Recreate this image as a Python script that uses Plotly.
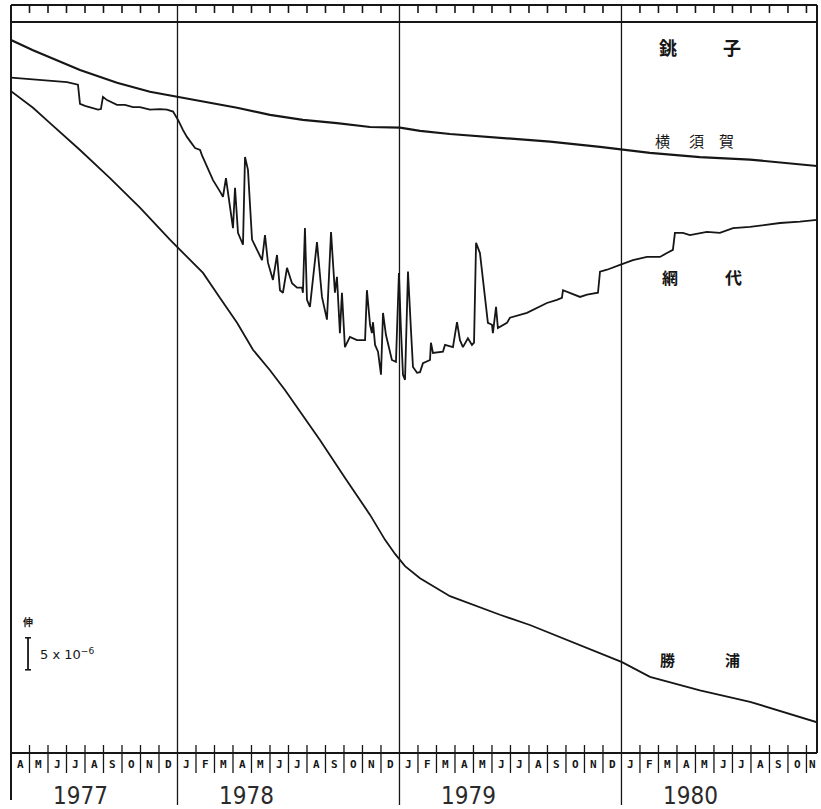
import plotly.graph_objects as go

# time axis: months since 1977-04-01 ; strain values in units of 1e-6 (arbitrary offset)
X_END = 43.57

yokosuka_t = [0, 1.19, 3.73, 5.73, 7.51, 9.03, 10.38, 12.22, 14.0, 15.78, 17.62, 19.41,
              21.03, 22.11, 23.73, 26.43, 29.14, 31.84, 34.54, 37.24, 39.95, 43.57]
yokosuka_v = [111.4, 109.8, 106.7, 104.7, 103.3, 102.5, 101.7, 100.8, 99.7, 98.9, 98.4, 97.8,
              97.7, 97.2, 96.7, 96.1, 95.5, 94.7, 93.75, 93.1, 92.7, 91.7]

ajiro_t = [0, 1.19, 2.38, 3.03, 3.62, 3.73, 4.00, 4.27, 4.70, 4.86, 4.97, 5.19, 5.46, 5.73,
           6.16, 6.59, 6.97, 7.51, 8.05, 8.43, 8.76, 9.03, 9.30, 9.51, 9.95, 10.22, 10.32,
           10.59, 10.92, 11.30, 11.46, 11.62, 11.84, 12.00, 12.11, 12.27, 12.54, 12.65, 12.81,
           12.92, 13.03, 13.30, 13.57, 13.73, 13.89, 14.16, 14.38, 14.54, 14.70, 14.92, 15.19,
           15.46, 15.73, 15.78, 15.89, 16.00, 16.16, 16.54, 16.81, 17.08, 17.30, 17.51, 17.62,
           17.78, 17.89, 18.05, 18.32, 18.70, 19.14, 19.24, 19.41, 19.51, 19.57, 19.68, 19.84,
           20.00, 20.11, 20.27, 20.59, 20.81, 20.97, 21.08, 21.19, 21.30, 21.46, 21.62, 21.73,
           21.95, 22.11, 22.27, 22.65, 22.70, 22.81, 23.35, 23.46, 23.89, 24.11, 24.27, 24.43,
           24.70, 24.92, 25.03, 25.14, 25.35, 25.62, 25.78, 26.00, 26.05, 26.22, 26.32, 26.81,
           26.97, 27.89, 28.59, 28.97, 29.51, 29.78, 29.84, 30.22, 30.76, 31.14, 31.73, 31.84,
           32.22, 32.92, 33.62, 34.38, 35.08, 35.46, 35.78, 35.89, 36.32, 36.70, 37.62, 38.32,
           39.03, 39.95, 40.86, 41.57, 42.65, 43.57]
ajiro_v = [105.5, 105.2, 105.0, 104.8, 104.4, 101.4, 101.1, 100.9, 100.5, 100.6, 102.5, 102.0,
           101.6, 101.25, 101.25, 100.9, 100.9, 100.5, 100.6, 100.5, 100.2, 98.9, 97.3, 96.25,
           94.5, 94.2, 93.4, 91.6, 89.5, 87.7, 86.9, 89.8, 84.8, 82.0, 88.3, 81.25, 79.4, 93.1,
           91.1, 84.8, 80.2, 78.6, 77.0, 80.9, 76.6, 73.9, 77.8, 72.3, 71.9, 75.8, 73.4, 72.7,
           72.7, 71.9, 82.0, 70.8, 69.7, 79.8, 71.25, 67.7, 81.4, 71.9, 74.4, 65.6, 71.9, 63.4,
           65.0, 64.5, 64.5, 72.3, 66.9, 65.6, 67.3, 63.75, 62.7, 59.1, 68.75, 65.3, 61.4, 61.1,
           75.0, 66.1, 59.1, 58.3, 75.2, 66.1, 60.3, 59.4, 59.5, 60.9, 61.4, 64.1, 62.5, 62.7,
           63.75, 63.4, 67.3, 64.5, 63.4, 64.8, 63.75, 64.1, 79.7, 78.1, 71.25, 67.2, 66.9, 65.6,
           69.7, 66.4, 67.2, 68.0, 68.75, 69.7, 70.3, 70.8, 71.1, 72.3, 71.9, 71.25, 71.6, 71.9,
           75.2, 75.5, 76.25, 77.0, 77.5, 77.5, 78.1, 78.6, 81.25, 81.25, 80.9, 81.4, 81.25,
           82.0, 82.2, 82.5, 82.8, 83.0, 83.3]

katsuura_t = [0, 1.19, 2.11, 3.73, 5.35, 6.97, 8.59, 9.03, 10.38, 11.30, 12.22, 13.08, 14.00,
              14.81, 16.70, 18.05, 19.41, 20.22, 20.76, 21.30, 22.11, 23.73, 25.35, 26.43,
              28.05, 29.68, 31.30, 32.11, 33.03, 34.54, 37.24, 39.95, 43.57]
katsuura_v = [103.4, 100.8, 98.4, 94.2, 89.8, 85.2, 80.2, 78.9, 75.0, 71.1, 67.2, 63.0, 59.8,
              56.7, 48.9, 43.0, 37.2, 33.3, 31.1, 29.2, 27.3, 24.5, 22.7, 21.6, 20.0, 18.1,
              16.1, 15.2, 14.2, 11.9, 9.8, 8.0, 4.8]

month_labels = ["A", "M", "J", "J", "A", "S", "O", "N", "D",
                "J", "F", "M", "A", "M", "J", "J", "A", "S", "O", "N", "D",
                "J", "F", "M", "A", "M", "J", "J", "A", "S", "O", "N", "D",
                "J", "F", "M", "A", "M", "J", "J", "A", "S", "O", "N"]
year_labels = ["1977", "1978", "1979", "1980"]
year_starts = [0, 9, 21, 33]
year_lines = [9, 21, 33]

INK = "#161616"

fig = go.Figure()
for t, v, w in [(yokosuka_t, yokosuka_v, 2.2), (ajiro_t, ajiro_v, 1.8), (katsuura_t, katsuura_v, 1.8)]:
    fig.add_trace(go.Scatter(x=t, y=v, mode="lines", line=dict(color=INK, width=w),
                             hoverinfo="skip", showlegend=False))

PLOT_H = 731.0
def py(p):
    return (753 - p) / PLOT_H

shapes = []
def line(x0, y0, x1, y1, xref="paper", w=1.6):
    shapes.append(dict(type="line", xref=xref, yref="paper", x0=x0, y0=y0, x1=x1, y1=y1,
                       line=dict(color=INK, width=w)))

# frame
line(0, py(800), 0, py(5), w=2)
line(1, 0, 1, py(5), w=2)
line(0, py(5), 1, py(5), w=1.8)
line(0, 1, 1, 1, w=1.8)
line(0, 0, 1, 0, w=1.8)
# month ticks
for m in range(1, 44):
    if m in year_lines:
        continue
    line(m, py(13), m, py(5), xref="x", w=1.6)
    line(m, py(773), m, py(745), xref="x", w=1.3)
for m in year_lines:
    line(m, py(805), m, py(5), xref="x", w=1.3)

# scale bar 5e-6
shapes.append(dict(type="line", xref="x", yref="y", x0=0.92, x1=0.92, y0=13, y1=18,
                   line=dict(color=INK, width=1.8)))
for yy in (13, 18):
    shapes.append(dict(type="line", xref="x", yref="y", x0=0.76, x1=1.08, y0=yy, y1=yy,
                       line=dict(color=INK, width=1.6)))

ann = []
for i, lab in enumerate(month_labels):
    xc = i + 0.5 if i < 43 else 43.3
    ann.append(dict(x=xc, y=py(764), xref="x", yref="paper", yanchor="middle",
                    text="<b>%s</b>" % lab, showarrow=False,
                    font=dict(family="DejaVu Sans Mono", size=11, color=INK)))
for lab, s in zip(year_labels, year_starts):
    ann.append(dict(x=s + 3.75, y=py(796), xref="x", yref="paper", yanchor="middle",
                    text=lab, showarrow=False,
                    font=dict(family="Liberation Sans Narrow, DejaVu Sans Condensed, sans-serif",
                              size=24, color="#2a2a2a")))

CJK = "Noto Sans CJK JP"
def cjk(ch, t, v, size, bold=True):
    txt = "<b>%s</b>" % ch if bold else ch
    ann.append(dict(x=t, y=v, xref="x", yref="y", text=txt, showarrow=False,
                    font=dict(family=CJK, size=size, color=INK)))

cjk("銚", 35.5, 110.3, 18); cjk("子", 39.0, 110.3, 18)
cjk("横", 35.24, 95.7, 15, False); cjk("須", 37.08, 95.7, 15, False); cjk("賀", 38.7, 95.7, 15, False)
cjk("網", 35.62, 74.4, 16); cjk("代", 39.03, 74.4, 17)
cjk("勝", 35.5, 14.6, 15); cjk("浦", 39.0, 14.6, 15)
cjk("伸", 0.92, 20.5, 10)
ann.append(dict(x=1.45, y=15.5, xref="x", yref="y", text="5 x 10<sup>−6</sup>", showarrow=False,
                xanchor="left", font=dict(family="DejaVu Sans", size=13, color=INK)))

fig.update_layout(
    width=821, height=809, autosize=False,
    margin=dict(l=11, r=4, t=22, b=56),
    paper_bgcolor="white", plot_bgcolor="white",
    xaxis=dict(range=[0, X_END], visible=False, showgrid=False, zeroline=False),
    yaxis=dict(range=[0, 114.2], visible=False, showgrid=False, zeroline=False),
    shapes=shapes, annotations=ann, hovermode=False,
)
fig.write_html("out.html", config={"displayModeBar": False, "staticPlot": True})

# remove the default page margin so the figure sits at the window's top-left corner
with open("out.html", encoding="utf-8") as f:
    page = f.read()
page = page.replace("<body>", '<body style="margin:0;padding:0;overflow:hidden">', 1)
with open("out.html", "w", encoding="utf-8") as f:
    f.write(page)
